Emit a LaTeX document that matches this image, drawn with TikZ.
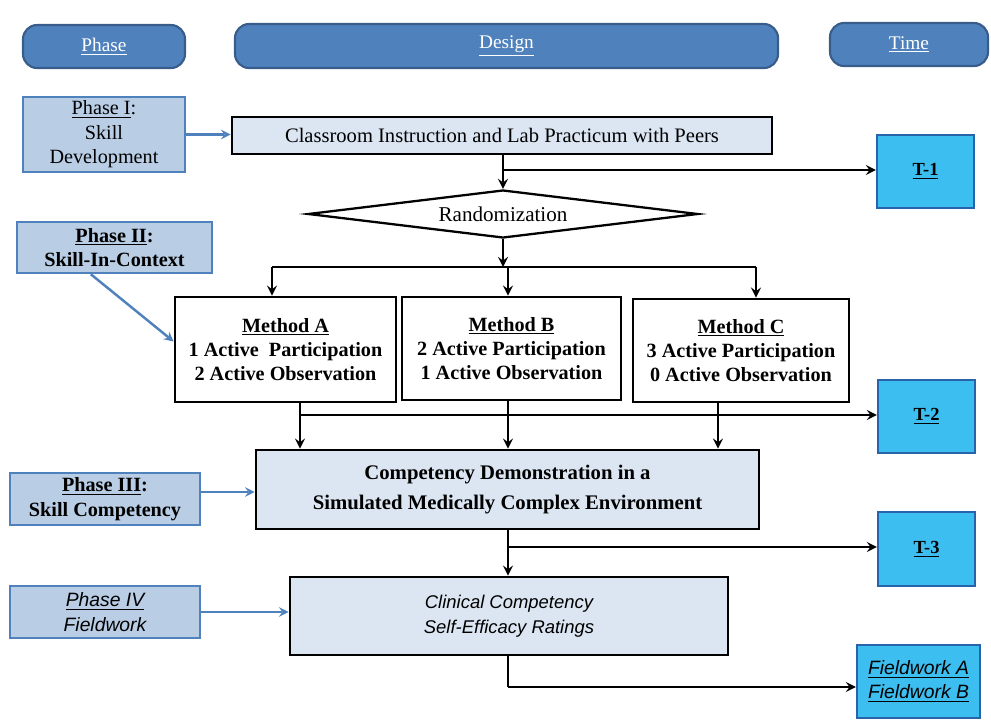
\documentclass[tikz,border=0pt]{standalone}
\usepackage{fontspec}
\setmainfont{Liberation Serif}
\newfontfamily\slfont{Liberation Sans}
\usetikzlibrary{arrows,shapes.geometric,calc}

\definecolor{kopf}{RGB}{79,129,189}
\definecolor{kopfrand}{RGB}{56,93,138}
\definecolor{phase}{RGB}{185,205,229}
\definecolor{hell}{RGB}{220,230,242}
\definecolor{zeit}{RGB}{60,190,240}
\definecolor{zeitrand}{RGB}{40,100,170}

\begin{document}
\begin{tikzpicture}[x=0.02cm,y=-0.02cm,>=stealth,
	kopfbox/.style={draw=kopfrand,fill=kopf,line width=1.2pt,rounded corners=8pt,text=white,font=\fontsize{11}{13}\selectfont},
	phasebox/.style={draw=kopf,fill=phase,line width=1.4pt,align=center,font=\fontsize{11.5}{14}\selectfont},
	stufe/.style={draw=black,fill=hell,line width=1.6pt,align=center},
	methode/.style={draw=black,fill=white,line width=1.6pt,align=center,font=\bfseries\fontsize{11.5}{13.8}\selectfont},
	zeitbox/.style={draw=zeitrand,fill=zeit,line width=1.2pt,align=center,font=\bfseries\fontsize{10.5}{12}\selectfont},
	pfeil/.style={->,line width=1.5pt},
	blaupfeil/.style={->,draw=kopf,line width=1.4pt}]

\def\u{0.02cm}

% #1 style, #2 name, #3 centre, #4 width, #5 height, #6 text
\def\blk#1#2#3#4#5#6{
	\node[#1,inner sep=0pt,minimum width={#4*\u},minimum height={#5*\u}] (#2) at (#3) {#6};
}

\useasboundingbox (0,0) rectangle (991,721);

% headers
\blk{kopfbox}{phaseH}{104,46.5}{162}{43}{\underline{Phase}}
\blk{kopfbox}{designH}{506.5,46}{543}{44}{\underline{Design}}
\blk{kopfbox}{timeH}{909,44.5}{158}{43}{\underline{Time}}

% phases
\blk{phasebox}{p1}{104,134.5}{162}{75}{\underline{Phase I}:\\Skill\\Development}
\blk{phasebox}{p2}{114.5,247.5}{195}{51}{\bfseries\underline{Phase II}:\\\bfseries Skill-In-Context}
\blk{phasebox}{p3}{105,499}{190}{52}{\bfseries\underline{Phase III}:\\\bfseries Skill Competency}
\blk{phasebox,font=\slfont\itshape\fontsize{11}{14}\selectfont}{p4}{105,612}{190}{52}{\underline{Phase IV}\\Fieldwork}

% design
\blk{stufe,font=\fontsize{11.7}{13}\selectfont}{class}{502,135.5}{540}{37}{Classroom Instruction and Lab Practicum with Peers}
\node[diamond,draw=black,fill=white,line width=1.3pt,aspect=8,inner sep=0pt,
	minimum width={390*\u},minimum height={48*\u},font=\fontsize{12}{13}\selectfont] (rand) at (503,214) {Randomization};
\blk{methode}{mA}{285.5,349.5}{221}{105}{\underline{Method A}\\1 Active~~Participation\\2 Active Observation}
\blk{methode}{mB}{511.5,348.5}{219}{103}{\underline{Method B}\\2 Active Participation\\1 Active Observation}
\blk{methode}{mC}{741,350.5}{216}{103}{\underline{Method C}\\3 Active Participation\\0 Active Observation}
\blk{stufe,font=\bfseries\fontsize{11.8}{17}\selectfont}{comp}{507.5,489.5}{503}{79}{Competency Demonstration in a\\Simulated Medically Complex Environment}
\blk{stufe,font=\slfont\itshape\fontsize{10.5}{14}\selectfont}{clin}{509,616}{438}{78}{Clinical Competency\\Self-Efficacy Ratings}

% time
\blk{zeitbox}{t1}{925.5,171.5}{97}{73}{\underline{T-1}}
\blk{zeitbox}{t2}{926.5,416.5}{97}{73}{\underline{T-2}}
\blk{zeitbox}{t3}{926.5,549}{97}{74}{\underline{T-3}}
\blk{zeitbox,font=\slfont\itshape\fontsize{11}{13.5}\selectfont}{fw}{918.5,681.5}{123}{73}{\underline{Fieldwork A}\\\underline{Fieldwork B}}

% phase arrows
\draw[blaupfeil] (p1.east) -- (p1.east -| class.west);
\draw[blaupfeil] ($(p2.south west)!0.38!(p2.south east)$) -- ([yshift=0.16cm]mA.west);
\draw[blaupfeil] ([yshift=0.14cm]p3.east) -- ([yshift=0.14cm]p3.east -| comp.west);
\draw[blaupfeil] (p4.east) -- (p4.east -| clin.west);

% flow
\coordinate (k1) at (503,170);
\draw[pfeil] (class.south -| k1) -- (rand.north);
\draw[pfeil] (k1) -- (k1 -| t1.west);

\coordinate (k2) at (503,267);
\draw[pfeil] (rand.south) -- (k2);
\draw[line width=1.5pt] (272,267) -- (756,267);
\foreach \m/\xx in {mA/272,mB/508,mC/756}
	\draw[pfeil] (\xx,267) -- (\xx,267 |- \m.north);

\coordinate (k3) at (300,415);
\draw[pfeil] (mA.south -| k3) -- (k3 |- comp.north);
\draw[pfeil] (k3) -- (k3 -| t2.west);
\draw[pfeil] (mB.south -| 508,0) -- (508,0 |- comp.north);
\draw[pfeil] (mC.south -| 718,0) -- (718,0 |- comp.north);

\coordinate (k4) at (508,547);
\draw[pfeil] (comp.south -| k4) -- (k4 |- clin.north);
\draw[pfeil] (k4) -- (k4 -| t3.west);

\coordinate (k5) at (508,687);
\draw[line width=1.5pt] (clin.south -| k5) -- (k5);
\draw[pfeil] (k5) -- (k5 -| fw.west);

\end{tikzpicture}
\end{document}
